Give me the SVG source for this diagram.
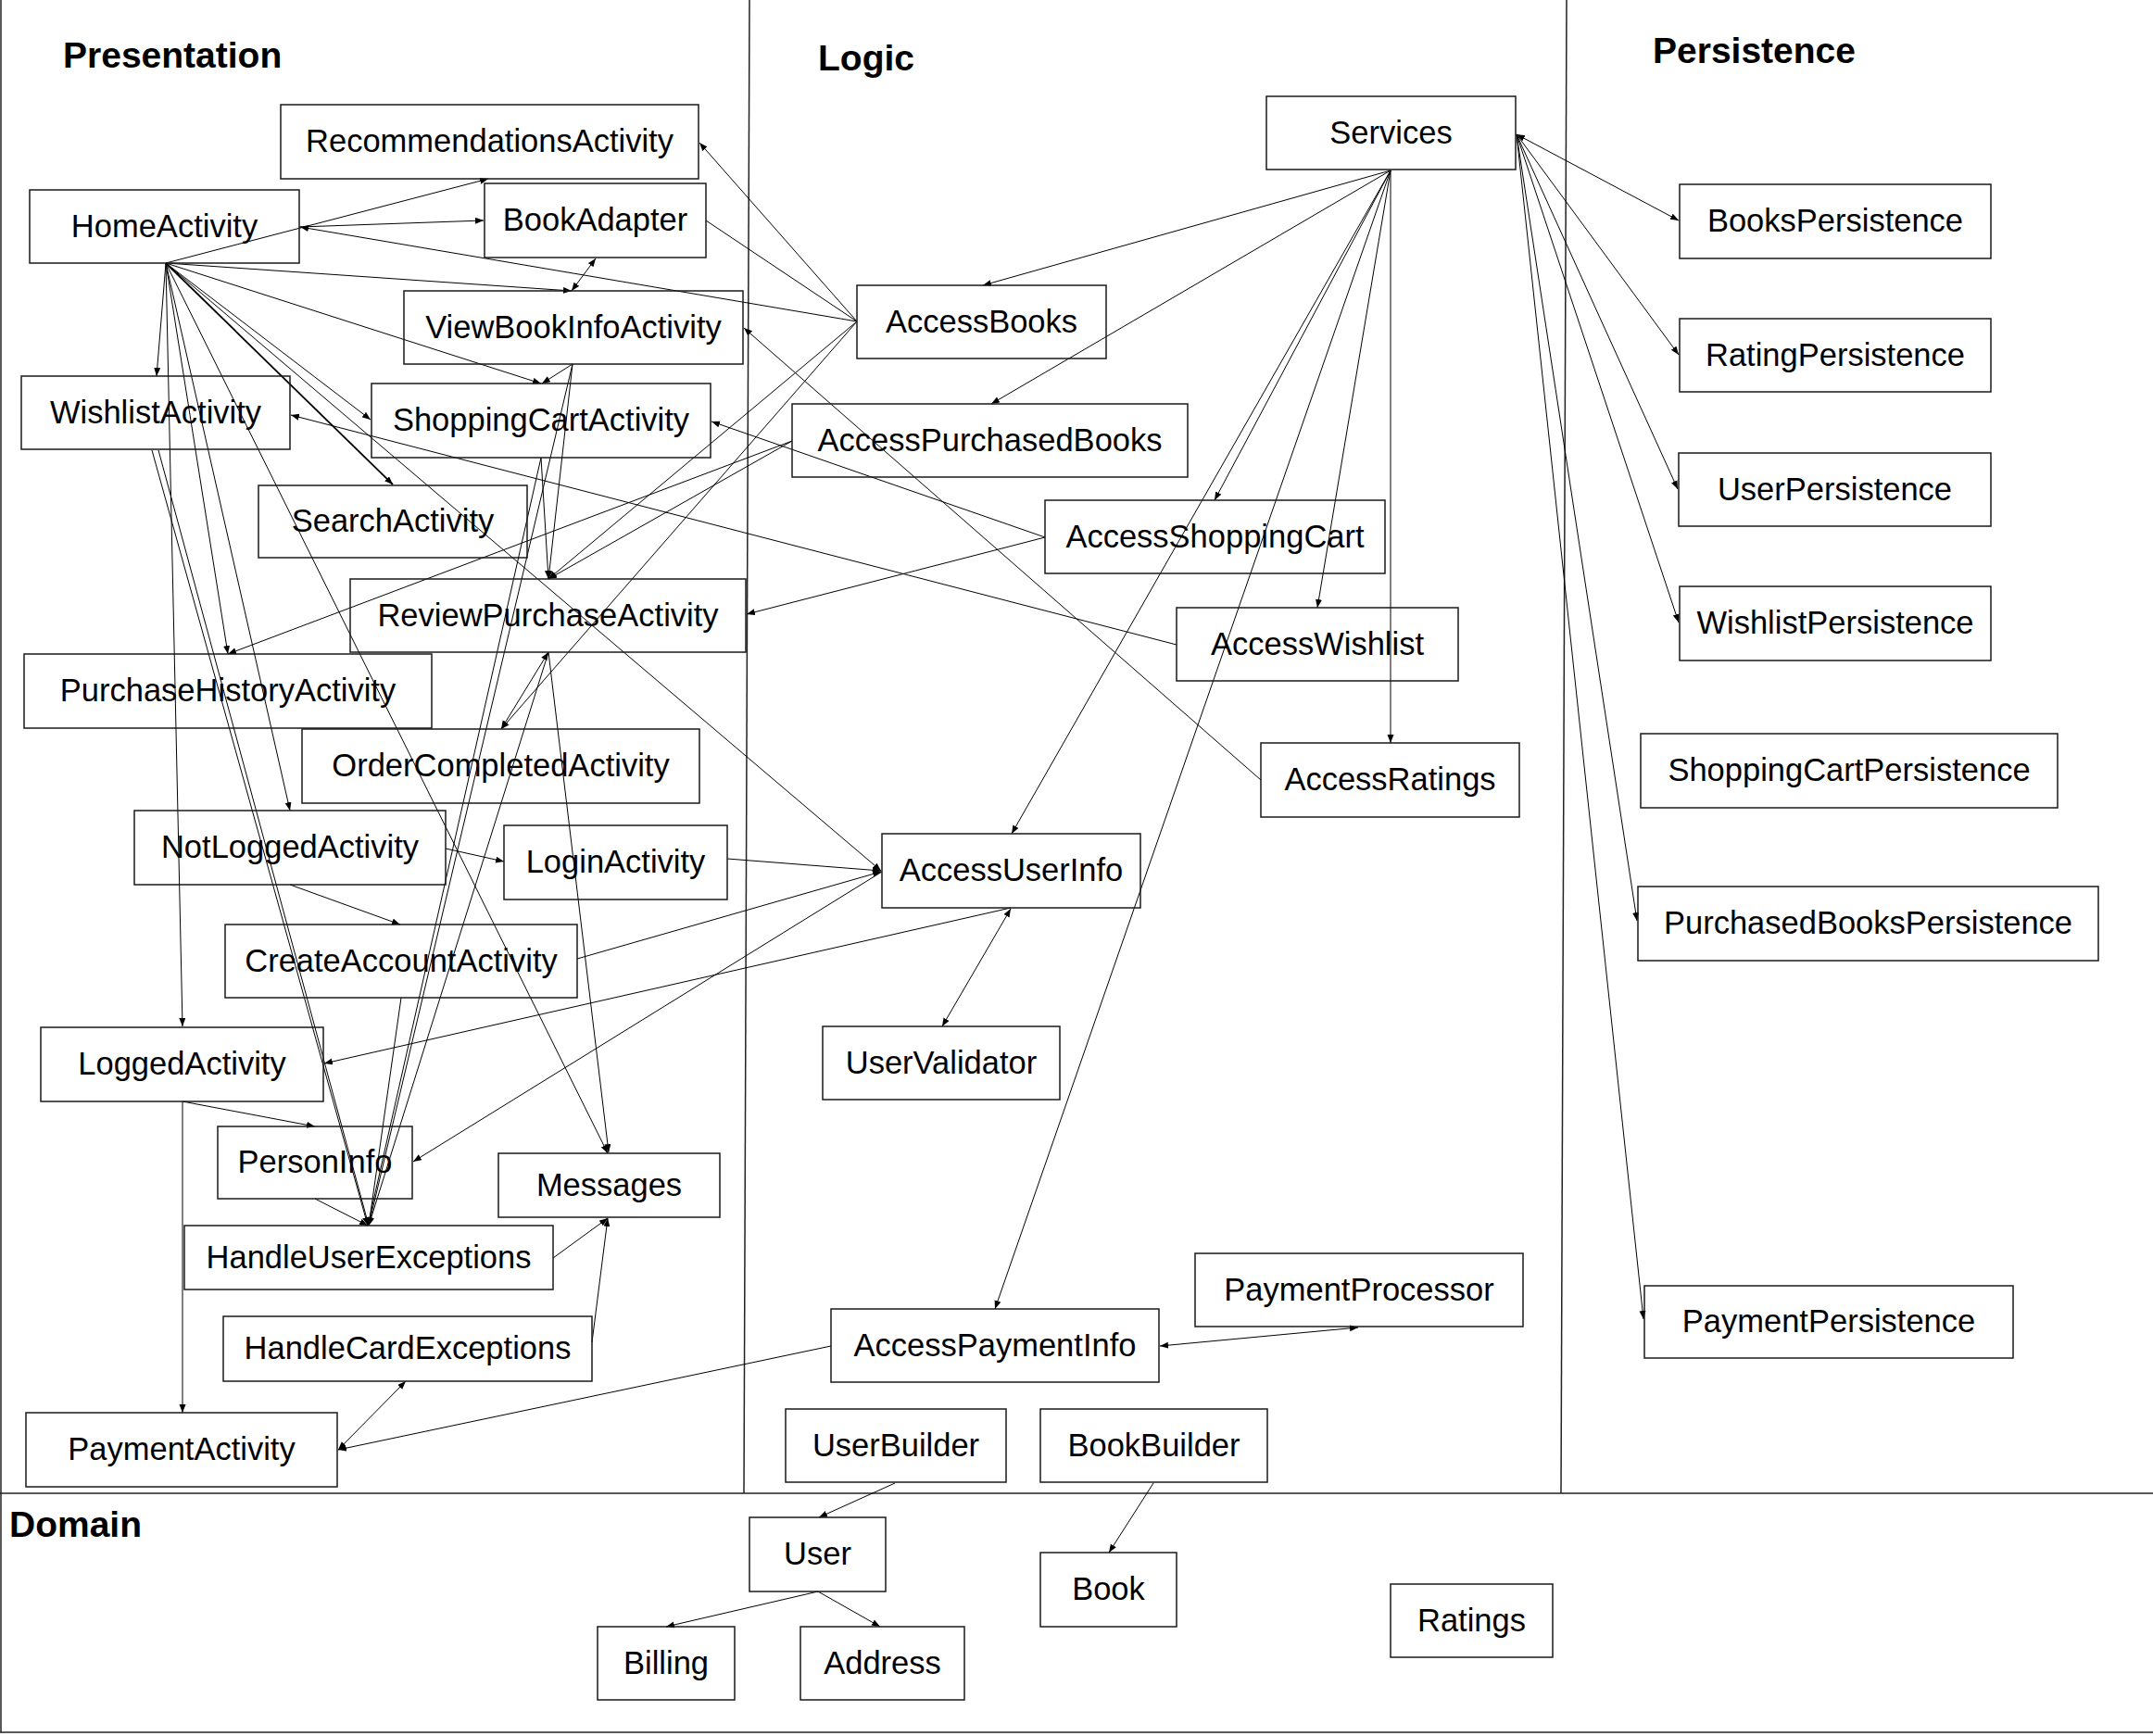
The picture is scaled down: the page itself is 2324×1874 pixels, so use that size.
<svg xmlns="http://www.w3.org/2000/svg" width="2324" height="1874" viewBox="0 0 2324 1874">
<style>
.bx{fill:#fff;stroke:#1a1a1a;stroke-width:1.5}
.t{font-family:"Liberation Sans",Arial,sans-serif;font-size:34.5px;fill:#000;text-anchor:middle}
.h{font-family:"Liberation Sans",Arial,sans-serif;font-size:39px;font-weight:bold;fill:#000}
.dv{stroke:#222;stroke-width:1.5;fill:none}
#connectors line{stroke:#000;stroke-width:1;fill:none;marker-end:url(#ah)}
#connectors line.b{marker-start:url(#ah)}
#connectors line.n{marker-end:none}
</style>
<defs>
<marker id="ah" markerUnits="userSpaceOnUse" markerWidth="10" markerHeight="8" refX="9" refY="3.5" orient="auto-start-reverse">
<path d="M0,0 L9,3.5 L0,7 z" fill="#000"/>
</marker>
</defs>
<rect x="0" y="0" width="2324" height="1874" fill="#fff"/>
<g id="layers">
<line class="dv" x1="1" y1="0" x2="1" y2="1870"/>
<line class="dv" x1="809" y1="0" x2="803" y2="1612"/>
<line class="dv" x1="1691" y1="0" x2="1685" y2="1612"/>
<line class="dv" x1="0" y1="1612" x2="2324" y2="1612"/>
<line class="dv" x1="0" y1="1870" x2="2324" y2="1870"/>
<text class="h" x="68" y="73">Presentation</text>
<text class="h" x="883" y="76">Logic</text>
<text class="h" x="1784" y="68">Persistence</text>
<text class="h" x="10" y="1659">Domain</text>
</g>
<g id="connectors">
<line x1="179" y1="284" x2="527" y2="193"/>
<line x1="323" y1="245" x2="522" y2="238"/>
<line x1="925" y1="347" x2="324" y2="245"/>
<line class="b" x1="643" y1="279" x2="617" y2="314"/>
<line x1="179" y1="284" x2="617" y2="314"/>
<line x1="179" y1="284" x2="584" y2="414"/>
<line x1="618" y1="393" x2="585" y2="414"/>
<line x1="179" y1="284" x2="400" y2="453"/>
<line x1="179" y1="284" x2="169" y2="406"/>
<line x1="179" y1="284" x2="424" y2="523" style="stroke-width:1.8"/>
<line x1="179" y1="284" x2="951" y2="940"/>
<line x1="179" y1="284" x2="246" y2="706"/>
<line x1="179" y1="284" x2="313" y2="875"/>
<line x1="179" y1="284" x2="197" y2="1108"/>
<line x1="179" y1="284" x2="656" y2="1245"/>
<line x1="197" y1="1189" x2="197" y2="1525"/>
<line x1="197" y1="1189" x2="340" y2="1216"/>
<line x1="164" y1="486" x2="397" y2="1323"/>
<line x1="171" y1="486" x2="398" y2="1323"/>
<line x1="584" y1="494" x2="397" y2="1323"/>
<line x1="618" y1="393" x2="398" y2="1323"/>
<line x1="592" y1="704" x2="398" y2="1323"/>
<line x1="433" y1="1077" x2="398" y2="1323"/>
<line x1="340" y1="1294" x2="397" y2="1323"/>
<line x1="584" y1="494" x2="592" y2="625"/>
<line x1="618" y1="393" x2="592" y2="625"/>
<line x1="925" y1="347" x2="592" y2="625"/>
<line x1="855" y1="476" x2="592" y2="625"/>
<line x1="855" y1="476" x2="246" y2="706"/>
<line x1="925" y1="347" x2="541" y2="787"/>
<line class="b" x1="592" y1="704" x2="541" y2="787"/>
<line x1="592" y1="704" x2="657" y2="1244"/>
<line x1="925" y1="347" x2="755" y2="154"/>
<line class="n" x1="762" y1="238" x2="925" y2="347"/>
<line x1="1361" y1="842" x2="803" y2="354"/>
<line x1="1128" y1="580" x2="768" y2="455"/>
<line x1="1128" y1="580" x2="806" y2="663"/>
<line x1="1270" y1="696" x2="314" y2="448"/>
<line x1="481" y1="916" x2="544" y2="930"/>
<line x1="313" y1="955" x2="432" y2="998"/>
<line x1="785" y1="927" x2="951" y2="940"/>
<line x1="623" y1="1035" x2="951" y2="941"/>
<line x1="952" y1="941" x2="446" y2="1254"/>
<line x1="1091" y1="980" x2="350" y2="1148"/>
<line class="b" x1="1091" y1="981" x2="1017" y2="1108"/>
<line x1="597" y1="1358" x2="656" y2="1315"/>
<line x1="639" y1="1449" x2="656" y2="1315"/>
<line class="b" x1="438" y1="1491" x2="365" y2="1565"/>
<line x1="897" y1="1453" x2="365" y2="1565"/>
<line class="b" x1="1466" y1="1433" x2="1252" y2="1453"/>
<line x1="1501" y1="184" x2="1061" y2="308"/>
<line x1="1501" y1="184" x2="1070" y2="436"/>
<line x1="1501" y1="184" x2="1311" y2="540"/>
<line x1="1501" y1="184" x2="1422" y2="656"/>
<line x1="1501" y1="184" x2="1501" y2="802"/>
<line x1="1501" y1="184" x2="1092" y2="900"/>
<line x1="1501" y1="184" x2="1074" y2="1413"/>
<line class="b" x1="1637" y1="145" x2="1812" y2="238"/>
<line x1="1637" y1="145" x2="1812" y2="383"/>
<line x1="1637" y1="145" x2="1811" y2="528"/>
<line x1="1637" y1="145" x2="1812" y2="672"/>
<line x1="1637" y1="145" x2="1767" y2="994"/>
<line x1="1637" y1="145" x2="1774" y2="1424"/>
<line x1="966" y1="1601" x2="884" y2="1638"/>
<line x1="1245" y1="1601" x2="1197" y2="1676"/>
<line x1="883" y1="1718" x2="950" y2="1756"/>
<line x1="883" y1="1718" x2="719" y2="1756"/>
</g>
<g id="RecommendationsActivity"><rect class="bx" x="303" y="113" width="451" height="80" fill-opacity="0"/><text class="t" x="528.5" y="164">RecommendationsActivity</text></g>
<g id="HomeActivity"><rect class="bx" x="32" y="205" width="291" height="79" fill-opacity="0"/><text class="t" x="177.5" y="255.5">HomeActivity</text></g>
<g id="BookAdapter"><rect class="bx" x="523" y="198" width="239" height="80" fill-opacity="0"/><text class="t" x="642.5" y="249">BookAdapter</text></g>
<g id="ViewBookInfoActivity"><rect class="bx" x="436" y="314" width="366" height="79" fill-opacity="0"/><text class="t" x="619" y="364.5">ViewBookInfoActivity</text></g>
<g id="WishlistActivity"><rect class="bx" x="23" y="406" width="290" height="79" fill-opacity="0"/><text class="t" x="168" y="456.5">WishlistActivity</text></g>
<g id="ShoppingCartActivity"><rect class="bx" x="401" y="414" width="366" height="80" fill-opacity="0"/><text class="t" x="584" y="465">ShoppingCartActivity</text></g>
<g id="SearchActivity"><rect class="bx" x="279" y="524" width="290" height="78" fill-opacity="0"/><text class="t" x="424" y="574">SearchActivity</text></g>
<g id="ReviewPurchaseActivity"><rect class="bx" x="378" y="625" width="427" height="79" fill-opacity="0"/><text class="t" x="591.5" y="675.5">ReviewPurchaseActivity</text></g>
<g id="PurchaseHistoryActivity"><rect class="bx" x="26" y="706" width="440" height="80" fill-opacity="0"/><text class="t" x="246" y="757">PurchaseHistoryActivity</text></g>
<g id="OrderCompletedActivity"><rect class="bx" x="326" y="787" width="429" height="80" fill-opacity="0"/><text class="t" x="540.5" y="838">OrderCompletedActivity</text></g>
<g id="NotLoggedActivity"><rect class="bx" x="145" y="875" width="336" height="80" fill-opacity="0"/><text class="t" x="313" y="926">NotLoggedActivity</text></g>
<g id="LoginActivity"><rect class="bx" x="544" y="891" width="241" height="80" fill-opacity="0"/><text class="t" x="664.5" y="942">LoginActivity</text></g>
<g id="CreateAccountActivity"><rect class="bx" x="243" y="998" width="380" height="79" fill-opacity="0"/><text class="t" x="433" y="1048.5">CreateAccountActivity</text></g>
<g id="LoggedActivity"><rect class="bx" x="44" y="1109" width="305" height="80" fill-opacity="0"/><text class="t" x="196.5" y="1160">LoggedActivity</text></g>
<g id="PersonInfo"><rect class="bx" x="235" y="1216" width="210" height="78" fill-opacity="0"/><text class="t" x="340" y="1266">PersonInfo</text></g>
<g id="Messages"><rect class="bx" x="538" y="1245" width="239" height="69" fill-opacity="0"/><text class="t" x="657.5" y="1290.5">Messages</text></g>
<g id="HandleUserExceptions"><rect class="bx" x="199" y="1323" width="398" height="69" fill-opacity="0"/><text class="t" x="398" y="1368.5">HandleUserExceptions</text></g>
<g id="HandleCardExceptions"><rect class="bx" x="241" y="1421" width="398" height="70" fill-opacity="0"/><text class="t" x="440" y="1467">HandleCardExceptions</text></g>
<g id="PaymentActivity"><rect class="bx" x="28" y="1525" width="336" height="80" fill-opacity="0"/><text class="t" x="196" y="1576">PaymentActivity</text></g>
<g id="Services"><rect class="bx" x="1367" y="104" width="269" height="79" fill-opacity="0"/><text class="t" x="1501.5" y="154.5">Services</text></g>
<g id="AccessBooks"><rect class="bx" x="925" y="308" width="269" height="79" fill-opacity="0"/><text class="t" x="1059.5" y="358.5">AccessBooks</text></g>
<g id="AccessPurchasedBooks"><rect class="bx" x="855" y="436" width="427" height="79" fill-opacity="0"/><text class="t" x="1068.5" y="486.5">AccessPurchasedBooks</text></g>
<g id="AccessShoppingCart"><rect class="bx" x="1128" y="540" width="367" height="79" fill-opacity="0"/><text class="t" x="1311.5" y="590.5">AccessShoppingCart</text></g>
<g id="AccessWishlist"><rect class="bx" x="1270" y="656" width="304" height="79" fill-opacity="0"/><text class="t" x="1422" y="706.5">AccessWishlist</text></g>
<g id="AccessRatings"><rect class="bx" x="1361" y="802" width="279" height="80" fill-opacity="0"/><text class="t" x="1500.5" y="853">AccessRatings</text></g>
<g id="AccessUserInfo"><rect class="bx" x="952" y="900" width="279" height="80" fill-opacity="0"/><text class="t" x="1091.5" y="951">AccessUserInfo</text></g>
<g id="UserValidator"><rect class="bx" x="888" y="1108" width="256" height="79" fill-opacity="0"/><text class="t" x="1016" y="1158.5">UserValidator</text></g>
<g id="PaymentProcessor"><rect class="bx" x="1290" y="1353" width="354" height="79" fill-opacity="0"/><text class="t" x="1467" y="1403.5">PaymentProcessor</text></g>
<g id="AccessPaymentInfo"><rect class="bx" x="897" y="1413" width="354" height="79" fill-opacity="0"/><text class="t" x="1074" y="1463.5">AccessPaymentInfo</text></g>
<g id="UserBuilder"><rect class="bx" x="848" y="1521" width="238" height="79" fill-opacity="0"/><text class="t" x="967" y="1571.5">UserBuilder</text></g>
<g id="BookBuilder"><rect class="bx" x="1123" y="1521" width="245" height="79" fill-opacity="0"/><text class="t" x="1245.5" y="1571.5">BookBuilder</text></g>
<g id="User"><rect class="bx" x="809" y="1638" width="147" height="80" fill-opacity="0"/><text class="t" x="882.5" y="1689">User</text></g>
<g id="Book"><rect class="bx" x="1123" y="1676" width="147" height="80" fill-opacity="0"/><text class="t" x="1196.5" y="1727">Book</text></g>
<g id="Ratings"><rect class="bx" x="1501" y="1710" width="175" height="79" fill-opacity="0"/><text class="t" x="1588.5" y="1760.5">Ratings</text></g>
<g id="Billing"><rect class="bx" x="645" y="1756" width="148" height="79" fill-opacity="0"/><text class="t" x="719" y="1806.5">Billing</text></g>
<g id="Address"><rect class="bx" x="864" y="1756" width="177" height="79" fill-opacity="0"/><text class="t" x="952.5" y="1806.5">Address</text></g>
<g id="BooksPersistence"><rect class="bx" x="1813" y="199" width="336" height="80" fill-opacity="0"/><text class="t" x="1981" y="250">BooksPersistence</text></g>
<g id="RatingPersistence"><rect class="bx" x="1813" y="344" width="336" height="79" fill-opacity="0"/><text class="t" x="1981" y="394.5">RatingPersistence</text></g>
<g id="UserPersistence"><rect class="bx" x="1812" y="489" width="337" height="79" fill-opacity="0"/><text class="t" x="1980.5" y="539.5">UserPersistence</text></g>
<g id="WishlistPersistence"><rect class="bx" x="1813" y="633" width="336" height="80" fill-opacity="0"/><text class="t" x="1981" y="684">WishlistPersistence</text></g>
<g id="ShoppingCartPersistence"><rect class="bx" x="1771" y="792" width="450" height="80" fill-opacity="0"/><text class="t" x="1996" y="843">ShoppingCartPersistence</text></g>
<g id="PurchasedBooksPersistence"><rect class="bx" x="1768" y="957" width="497" height="80" fill-opacity="0"/><text class="t" x="2016.5" y="1008">PurchasedBooksPersistence</text></g>
<g id="PaymentPersistence"><rect class="bx" x="1775" y="1388" width="398" height="78" fill-opacity="0"/><text class="t" x="1974" y="1438">PaymentPersistence</text></g>
</svg>
